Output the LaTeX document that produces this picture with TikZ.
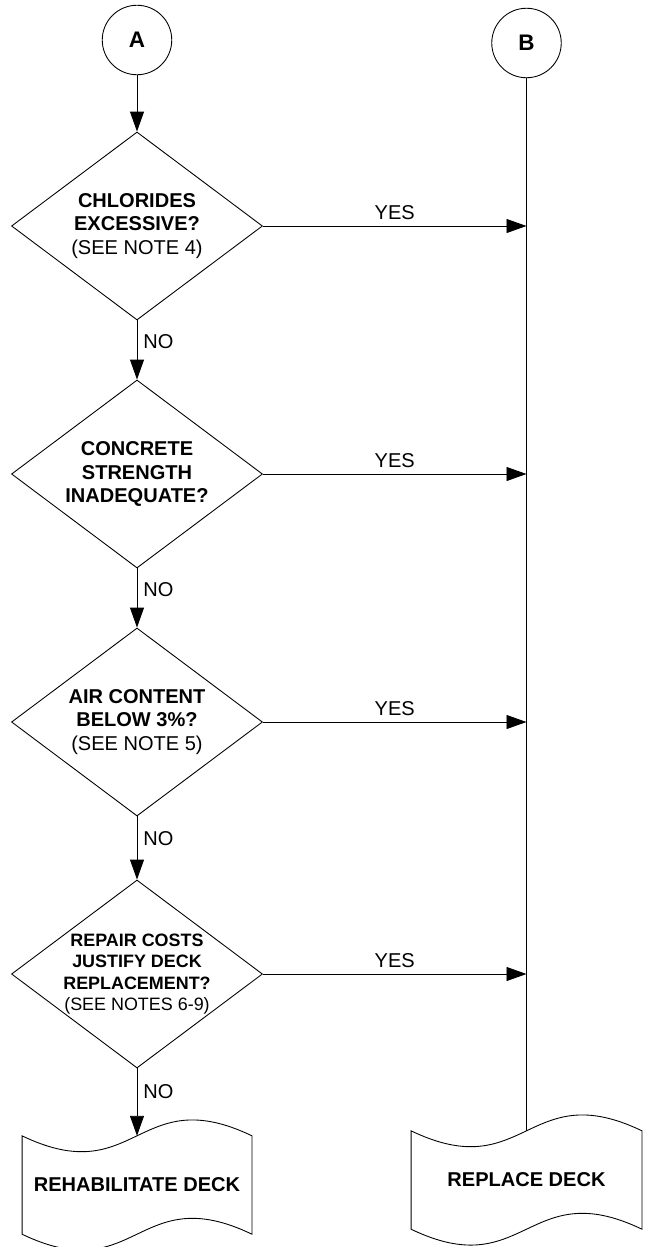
\documentclass[tikz,border=0pt]{standalone}
\usepackage{fontspec}
\setmainfont{Liberation Sans}
\usepackage{tikz}
\usetikzlibrary{arrows.meta}
\usetikzlibrary{shapes.geometric}
\tikzset{conn/.style = {draw, circle, minimum size = 1.39cm, inner sep = 0, font = \fontsize{12.8}{15}\selectfont\bfseries}}
\tikzset{decis/.style = {draw, diamond, aspect = 1.335, inner sep = 0, minimum width = 5.02cm, minimum height = 3.76cm, align = center, font = \fontsize{11.4}{13.4}\selectfont}}
\tikzset{tapebox/.style = {minimum width = 4.58cm, minimum height = 1.95cm, inner sep = 0, font = \fontsize{11.4}{13.4}\selectfont\bfseries}}
\tikzset{arr/.style = {-{Triangle[length = 0.4cm, width = 0.28cm]}}}
\tikzset{lbl/.style = {font = \fontsize{11.4}{13.4}\selectfont}}

\begin{document}
\begin{tikzpicture}[line width = 0.5pt]
    \useasboundingbox (0, 0) rectangle (12.9, -24.94);

    \node [conn] (A) at (2.74, -0.8) {A};
    \node [conn] (B) at (10.53, -0.86) {B};

    \node [decis] (d1) at (2.74, -4.52) {\textbf{CHLORIDES}\\ \textbf{EXCESSIVE?}\\ (SEE NOTE 4)};
    \node [decis] (d2) at (2.74, -9.48) {\textbf{CONCRETE}\\ \textbf{STRENGTH}\\ \textbf{INADEQUATE?}};
    \node [decis] (d3) at (2.74, -14.44) {\textbf{AIR CONTENT}\\ \textbf{BELOW 3\%?}\\ (SEE NOTE 5)};
    \node [decis, inner sep = -2pt, font = \fontsize{10.2}{12.2}\selectfont] (d4) at (2.74, -19.48)
      {\textbf{REPAIR COSTS}\\ \textbf{JUSTIFY DECK}\\ \textbf{REPLACEMENT?}\\ (SEE NOTES 6-9)};

    \node [tapebox] (rehab) at (2.74, -23.7) {REHABILITATE DECK};
    \node [tapebox, minimum width = 4.6cm] (repl) at (10.53, -23.6) {REPLACE DECK};

    % wavy outline of the two end boxes
    \foreach \n in {rehab, repl} {
      \draw (\n.north west) .. controls +(2.29, -1.1) and +(-2.29, 1.1) .. (\n.north east)
        -- (\n.south east) .. controls +(-2.29, 1.1) and +(2.29, -1.1) .. (\n.south west) -- cycle;
    }

    \draw [arr] (A) -- (d1.north);
    \draw [arr] (d1.south) -- (d2.north) node [pos = 0.35, right, lbl] (no1) {NO};
    \draw [arr] (d2.south) -- (d3.north) node [pos = 0.35, right, lbl] (no2) {NO};
    \draw [arr] (d3.south) -- (d4.north) node [pos = 0.35, right, lbl] (no3) {NO};
    \draw [arr] (d4.south) -- (rehab.north) node [pos = 0.35, right, lbl] (no4) {NO};

    \foreach \d in {1, 2, 3, 4} {
      \draw [arr] (d\d.east) -- (d\d.east -| B) node [midway, above, lbl] (yes\d) {YES};
    }
    \draw (B) -- (repl.north);
\end{tikzpicture}
\end{document}
